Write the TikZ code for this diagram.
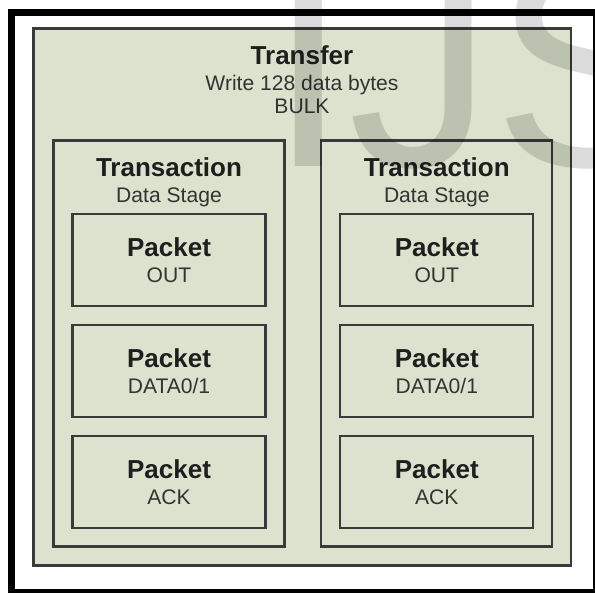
\documentclass[tikz,border=0pt]{standalone}
\usepackage{fontspec}
\setmainfont{Liberation Sans}
\usetikzlibrary{positioning}
\definecolor{stagefill}{HTML}{DCE2CD}
\definecolor{edgegray}{HTML}{3A3A3A}
\definecolor{inkdark}{HTML}{1E1E1E}
\definecolor{inksoft}{HTML}{333333}
\newcommand{\hdfont}{\fontsize{14.8}{14.8}\selectfont\bfseries}
\newcommand{\sbfont}{\fontsize{12}{14.8}\selectfont}

\begin{document}
\begin{tikzpicture}[
  stagebox/.style={draw=edgegray, line width=1.15pt, inner sep=0pt},
  title/.style={inner sep=0pt, align=center, font=\sbfont, text=inksoft}]
\useasboundingbox (0,0) rectangle (11.9,11.84);
\clip (0,0) rectangle (11.9,11.84);
% heavy frame, partly cut off at the right and bottom
\draw[line width=0.15cm] (0.23,-0.01) rectangle (11.93,11.59);
% outer transfer
\node[stagebox, fill=stagefill, minimum width=10.74cm, minimum height=10.74cm] (transfer) at (6.04,5.9) {};
\node[title, below=0.35cm of transfer.north] (transfertxt)
  {{\hdfont\color{inkdark}Transfer}\\Write 128 data bytes\\[-1.3pt]BULK};
% two transactions with three packets each
\foreach \side/\x in {left/3.38, right/8.735}{
  \node[stagebox, minimum width=4.62cm, minimum height=8.12cm] (trans\side) at (\x,4.97) {};
  \node[title, below=0.35cm of trans\side.north] (trans\side txt)
    {{\hdfont\color{inkdark}Transaction}\\Data Stage};
  \foreach \row/\y/\kind in {1/6.64/OUT, 2/4.42/{DATA0/1}, 3/2.2/ACK}
    \node[stagebox, title, minimum width=3.86cm, minimum height=1.84cm] (pkt\side\row) at (\x,\y)
      {{\hdfont\color{inkdark}Packet}\\\kind};
}
% faint lettering over the top right
\node[anchor=base west, inner sep=0pt, font=\fontsize{165}{165}\selectfont, text opacity=0.14] (mark) at (5.36,8.5) {IJS};
\end{tikzpicture}
\end{document}
